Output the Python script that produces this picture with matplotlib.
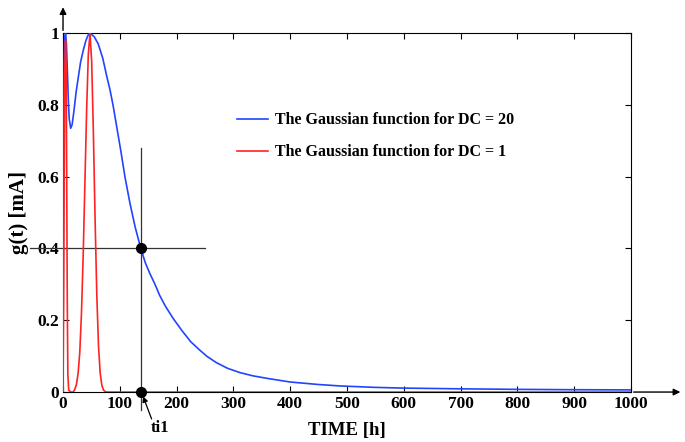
import matplotlib.pyplot as plt
import numpy as np

plt.rcParams['font.family'] = 'Liberation Serif'
plt.rcParams['font.weight'] = 'bold'

# Gaussian function, DC = 20 (blue)
t_blue = [0, 0.3, 0.7, 1.2, 2, 3, 4.6, 6, 8, 9.4, 11, 13.5, 16, 19, 23, 27, 31, 35.8, 40, 44,
          47.5, 55, 62, 70, 77, 83, 88, 95, 102, 109, 118, 127, 137, 145, 153, 162, 170, 180,
          194, 210, 225, 240, 253, 270, 290, 312, 335, 360, 400, 450, 488, 550, 600, 650,
          700, 800, 900, 1000]
g_blue = [0, 0.2, 0.5, 0.75, 0.92, 0.99, 1.0, 0.97, 0.88, 0.81, 0.76, 0.735, 0.745, 0.78, 0.835,
          0.878, 0.92, 0.953, 0.978, 0.994,
          1.0, 0.99, 0.97, 0.93, 0.88, 0.84, 0.80, 0.735, 0.67, 0.60, 0.525, 0.46, 0.40, 0.36,
          0.33, 0.30, 0.27, 0.24, 0.205, 0.17, 0.14, 0.118, 0.10, 0.082, 0.066, 0.054, 0.045,
          0.038, 0.028, 0.021, 0.017, 0.013, 0.011, 0.010, 0.009, 0.0075, 0.0065, 0.006]

# Gaussian function, DC = 1 (red)
t_red = [0, 1, 2, 3, 4, 4.6, 5.5, 6.5, 7.5, 8.5, 10, 14, 18, 20.5, 23.5, 26.5, 29.5, 32.5,
         35.5, 38.5, 41.5, 44.5, 47.5, 50.5, 53.5, 56.5, 59.5, 62.5, 65.5, 68.5, 71.5, 74.5,
         78, 83, 100, 200, 400, 700, 1000]
g_red = [0, 0.25, 0.6, 0.88, 0.97, 0.98, 0.9, 0.6, 0.25, 0.05, 0.005, 0.0, 0.0, 0.007, 0.02,
         0.051, 0.11, 0.22, 0.38, 0.58, 0.78, 0.94, 1.0, 0.92, 0.72, 0.48, 0.27, 0.128, 0.052,
         0.018, 0.005, 0.001, 0.0, 0, 0, 0, 0, 0, 0]

ti1 = 137
g_ti1 = 0.4

fig = plt.figure(figsize=(6.85, 4.42), dpi=100)
ax = fig.add_axes([0.092, 0.113, 0.829, 0.812])

ax.plot(t_blue, g_blue, color='#2244ff', lw=1.2, zorder=3,
        label='The Gaussian function for DC = 20')
ax.plot(t_red, g_red, color='#ff2222', lw=1.2, zorder=3,
        label='The Gaussian function for DC = 1')

# crosshair at ti1
ax.plot([ti1, ti1], [-0.05, 0.68], color='#333333', lw=0.9, clip_on=False)
ax.plot([-58, 250], [g_ti1, g_ti1], color='#333333', lw=0.9, clip_on=False)
ax.plot([ti1, ti1], [g_ti1, 0], 'o', color='black', ms=7, clip_on=False, zorder=5)
ax.annotate('', xy=(ti1 + 4, -0.012), xytext=(ti1 + 19, -0.075), annotation_clip=False,
            arrowprops=dict(arrowstyle='-|>', color='black', lw=0.9, mutation_scale=8,
                            shrinkA=0, shrinkB=0))
ax.text(ti1 + 33, -0.1, 'ti1', ha='center', va='center', fontsize=12, fontweight='bold',
        clip_on=False)

# axis arrows
ax.annotate('', xy=(0, 1.08), xytext=(0, 1.0), annotation_clip=False,
            arrowprops=dict(arrowstyle='-|>', color='black', lw=1, mutation_scale=10))
ax.annotate('', xy=(1092, 0), xytext=(1000, 0), annotation_clip=False,
            arrowprops=dict(arrowstyle='-|>', color='black', lw=1, mutation_scale=10))

ax.set_xlim(0, 1000)
ax.set_ylim(0, 1)
ax.set_xticks(np.arange(0, 1001, 100))
ax.set_yticks([0, 0.2, 0.4, 0.6, 0.8, 1])
ax.set_yticklabels(['0', '0.2', '0.4', '0.6', '0.8', '1'])
ax.tick_params(direction='in', top=True, right=True, labelsize=12.5, length=4, pad=3)
for lab in ax.get_xticklabels() + ax.get_yticklabels():
    lab.set_fontweight('bold')

ax.set_xlabel('TIME [h]', fontsize=13.5, fontweight='bold', labelpad=7)
ax.set_ylabel('g(t) [mA]', fontsize=15, fontweight='bold', labelpad=6)

ax.legend(loc='center left', bbox_to_anchor=(0.281, 0.713), frameon=False,
          handlelength=1.95, handletextpad=0.45, labelspacing=1.0,
          prop={'weight': 'bold', 'size': 11.5})

plt.savefig('out.png', dpi=100)
